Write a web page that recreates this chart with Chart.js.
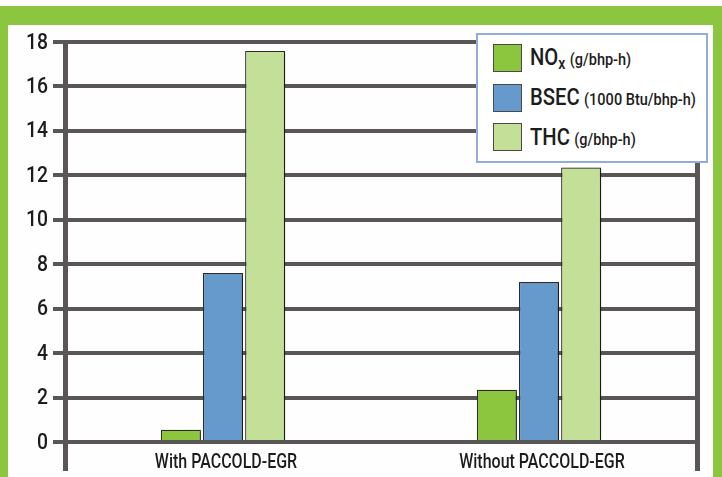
<!DOCTYPE html>
<html>
<head>
<meta charset="utf-8">
<script src="https://cdn.jsdelivr.net/npm/chart.js@4/dist/chart.umd.min.js"></script>
<style>
  html, body { margin: 0; padding: 0; background: #ffffff; }
  #wrap { position: relative; width: 722px; height: 477px; overflow: hidden; background: #ffffff; }
  #frame {
    position: absolute; top: 6px; left: 0; right: 0; bottom: -2px;
    border-top: 19px solid #8cc540; border-left: 8px solid #8cc540; border-right: 9px solid #8cc540;
    background: #fefefe;
  }
  #chart { position: absolute; left: 0; top: 0; }
  #legend {
    position: absolute; left: 476px; top: 33px; width: 228px; height: 126px;
    border: 2px solid #93acd9; background: #ffffff;
    font-family: Roboto, "Liberation Sans", sans-serif; font-weight: 500;
    color: #1c1c1c;
  }
  .item { position: absolute; left: 15px; height: 30px; display: flex; align-items: center; white-space: nowrap; }
  .sw { width: 29px; height: 28px; border: 1px solid #4a4a4a; box-sizing: border-box; margin-right: 8px; flex: none; }
  .txt { display: inline-block; transform: scaleX(0.88); transform-origin: left center; }
  .nm { font-size: 23px; }
  .nm sub { font-size: 16px; vertical-align: -4px; }
  .un { font-size: 16.5px; margin-left: 5px; }
</style>
</head>
<body>
<div id="wrap">
  <div id="frame"></div>
  <canvas id="chart" width="722" height="477"></canvas>
  <div id="legend"></div>
</div>
<script>
// Engine test results, with and without PACCOLD-EGR
const categories = ['With PACCOLD-EGR', 'Without PACCOLD-EGR'];
const noxValues  = [0.55, 2.35];   // g/bhp-h
const bsecValues = [7.6, 7.2];     // 1000 Btu/bhp-h
const thcValues  = [17.6, 12.35];  // g/bhp-h

const seriesNames = ['NO', 'BSEC', 'THC'];
const seriesSubs  = ['x', '', ''];
const seriesUnits = ['(g/bhp-h)', '(1000 Btu/bhp-h)', '(g/bhp-h)'];
const seriesColors = ['#8cc63f', '#6699cc', '#c3df98'];

const yMin = 0, yMax = 18, yStep = 2;

const labelFont = 'Roboto, "Liberation Sans", sans-serif';
const labelColor = '#1c1c1c';
const gridColor = '#5a5656';

// soft drop shadow behind the bars
const barShadow = {
  id: 'barShadow',
  beforeDatasetsDraw(chart) {
    const c = chart.ctx;
    c.save();
    c.shadowColor = 'rgba(0,0,0,0.45)';
    c.shadowBlur = 2;
    c.shadowOffsetX = 2;
    c.shadowOffsetY = 1;
  },
  afterDatasetsDraw(chart) { chart.ctx.restore(); }
};

// condensed tick labels, placed from the scales' own tick positions
function narrowText(c, text, x, y, size, align, baseline, squeeze) {
  c.save();
  c.font = '500 ' + size + 'px ' + labelFont;
  c.fillStyle = labelColor;
  c.textAlign = align;
  c.textBaseline = baseline;
  c.translate(x, y);
  c.scale(squeeze, 1);
  c.fillText(text, 0, 0);
  c.restore();
}
const narrowLabels = {
  id: 'narrowLabels',
  afterDraw(chart) {
    const c = chart.ctx;
    const ys = chart.scales.y, xs = chart.scales.x;
    ys.ticks.forEach((t) => {
      narrowText(c, String(t.value), ys.right - 17, ys.getPixelForValue(t.value) + 1, 22, 'right', 'middle', 0.88);
    });
    xs.ticks.forEach((t, i) => {
      narrowText(c, xs.getLabelForValue(t.value), xs.getPixelForTick(i) + 3, chart.chartArea.bottom + 11, 20, 'center', 'top', 0.8);
    });
  }
};

const valueSets = [noxValues, bsecValues, thcValues];

const chart = new Chart(document.getElementById('chart'), {
  type: 'bar',
  data: {
    labels: categories,
    datasets: valueSets.map((vals, i) => ({
      label: seriesNames[i] + seriesSubs[i] + ' ' + seriesUnits[i],
      data: vals,
      backgroundColor: seriesColors[i],
      borderColor: '#2d2d2d',
      borderWidth: 1.2,
      categoryPercentage: 0.4,
      barPercentage: 0.95
    }))
  },
  options: {
    responsive: false,
    animation: false,
    layout: { padding: { top: 42, right: 25, bottom: 0, left: 0 } },
    plugins: { legend: { display: false }, tooltip: { enabled: false } },
    scales: {
      x: {
        grid: {
          offset: true,
          color: (ctx) => (ctx.index === 1 ? 'rgba(0,0,0,0)' : gridColor),
          lineWidth: 5,
          drawTicks: true,
          tickLength: 29
        },
        border: { display: false },
        ticks: { display: false },
        afterFit(scale) { scale.height = 35; }
      },
      y: {
        min: yMin,
        max: yMax,
        ticks: { stepSize: yStep, display: false },
        grid: { color: gridColor, lineWidth: 4, tickLength: 12 },
        border: { display: false },
        afterFit(scale) { scale.width = 65; }
      }
    }
  },
  plugins: [barShadow, narrowLabels]
});

// legend built from the chart's datasets
const legend = document.getElementById('legend');
chart.data.datasets.forEach((ds, i) => {
  const row = document.createElement('div');
  row.className = 'item';
  row.style.top = (8 + i * 39.5) + 'px';
  const sw = document.createElement('div');
  sw.className = 'sw';
  sw.style.background = ds.backgroundColor;
  const txt = document.createElement('span');
  txt.className = 'txt';
  const nm = document.createElement('span');
  nm.className = 'nm';
  nm.textContent = seriesNames[i];
  if (seriesSubs[i]) {
    const sub = document.createElement('sub');
    sub.textContent = seriesSubs[i];
    nm.appendChild(sub);
  }
  const un = document.createElement('span');
  un.className = 'un';
  un.textContent = seriesUnits[i];
  txt.append(nm, un);
  row.append(sw, txt);
  legend.appendChild(row);
});
</script>
</body>
</html>
